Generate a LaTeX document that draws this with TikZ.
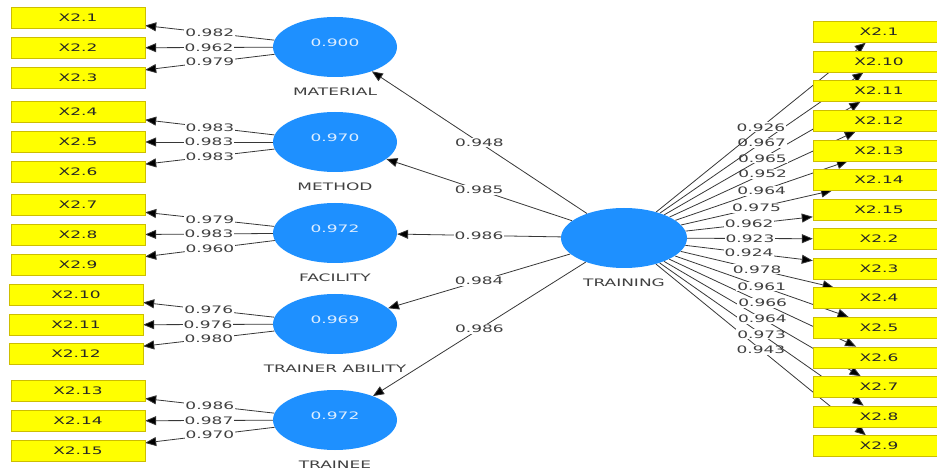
\documentclass[tikz,border=0pt]{standalone}
\usepackage{fontspec}
\newfontfamily\plsfont[FakeStretch=1.65]{DejaVu Sans}
\usetikzlibrary{arrows.meta,shapes.geometric,backgrounds}

\definecolor{lvblue}{RGB}{30,144,255}
\definecolor{lvtext}{RGB}{222,238,255}
\definecolor{mvyellow}{RGB}{255,255,0}
\definecolor{mvedge}{RGB}{205,190,0}
\definecolor{pathgray}{RGB}{55,55,55}

\begin{document}
\begin{tikzpicture}[
  x=1pt, y=-1pt,
  >={Triangle[length=11pt,width=9pt,fill=black]},
  every node/.style={font=\plsfont\fontsize{10.3}{12}\selectfont},
  latent/.style={ellipse, fill=lvblue, minimum width=124pt, minimum height=60pt,
                 inner sep=0pt, text=lvtext, text height=7.5pt, text depth=8pt},
  indicator/.style={draw=mvedge, fill=mvyellow, minimum width=134pt,
                    minimum height=21pt, inner sep=0pt, text=black!85},
  lvname/.style={text=black!75},
  load/.style={->, draw=pathgray, line width=0.8pt},
  coef/.style={fill=white, inner sep=1pt, text=black!75},
]
  \useasboundingbox (0,0) rectangle (937,470);

  % latent variables
  \node[latent] (material) at (335,47)  {0.900};
  \node[latent] (method)   at (335,142) {0.970};
  \node[latent] (facility) at (335,233) {0.972};
  \node[latent] (trainer)  at (335,324) {0.969};
  \node[latent] (trainee)  at (335,420) {0.972};
  \node[latent, minimum width=126pt] (training) at (624,238) {};

  \node[lvname] (material name) at (335,92)  {MATERIAL};
  \node[lvname] (method name)   at (335,187) {METHOD};
  \node[lvname] (facility name) at (335,278) {FACILITY};
  \node[lvname] (trainer name)  at (335,369) {TRAINER ABILITY};
  \node[lvname] (trainee name)  at (335,465) {TRAINEE};
  \node[lvname] (training name) at (624,283) {TRAINING};

  % indicators of the dimensions (left)
  \foreach \i/\y in {1/18,2/48,3/78,4/112,5/142,6/172,7/205,8/235,9/265,
                     13/391,14/421,15/451}
    \node[indicator] (ind\i) at (78,\y) {X2.\i};
  \foreach \i/\y in {10/295,11/325,12/354}
    \node[indicator] (ind\i) at (76,\y) {X2.\i};

  % indicators of training (right)
  \foreach \n [count=\k from 0] in {1,10,11,12,13,14,15,2,3,4,5,6,7,8,9}
    \node[indicator, minimum width=132pt] (tr\n) at (879,32+29.57*\k) {X2.\n};

  \begin{pgfonlayer}{background}
    % outer loadings of the dimensions
    \foreach \i/\v in {1/0.982,2/0.962,3/0.979}
      \draw[load] (material) -- (ind\i) node[midway, coef] {\v};
    \foreach \i/\v in {4/0.983,5/0.983,6/0.983}
      \draw[load] (method) -- (ind\i) node[midway, coef] {\v};
    \foreach \i/\v in {7/0.979,8/0.983,9/0.960}
      \draw[load] (facility) -- (ind\i) node[midway, coef] {\v};
    \foreach \i/\v in {10/0.976,11/0.976,12/0.980}
      \draw[load] (trainer) -- (ind\i) node[midway, coef] {\v};
    \foreach \i/\v in {13/0.986,14/0.987,15/0.970}
      \draw[load] (trainee) -- (ind\i) node[midway, coef] {\v};

    % second order paths
    \draw[load] (training) -- (material) node[midway, coef] {0.948};
    \draw[load] (training) -- (method)   node[midway, coef] {0.985};
    \draw[load] (training) -- (facility) node[midway, coef] {0.986};
    \draw[load] (training) -- (trainer)  node[midway, coef] {0.984};
    \draw[load] (training) -- (trainee)  node[midway, coef] {0.986};

    % outer loadings of training, bottom row first
    \foreach \n/\v in {9/0.943,8/0.973,7/0.964,6/0.966,5/0.961,4/0.978,
                       3/0.924,2/0.923,15/0.962,14/0.975,13/0.964,12/0.952,
                       11/0.965,10/0.967,1/0.926}
      \draw[load] (training) -- (tr\n) node[midway, coef] {\v};
  \end{pgfonlayer}
\end{tikzpicture}
\end{document}
